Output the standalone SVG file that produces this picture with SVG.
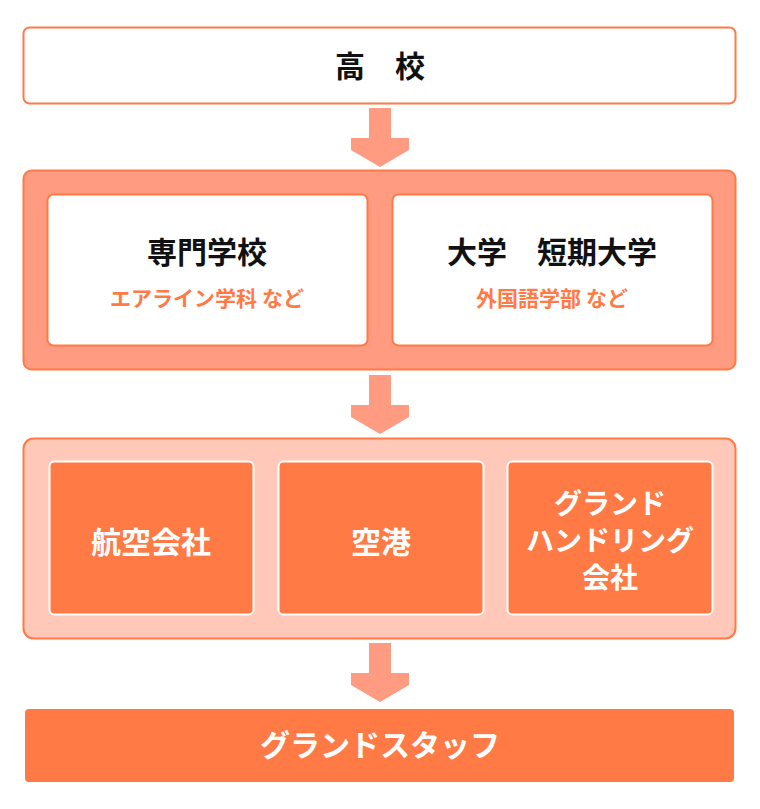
<svg xmlns="http://www.w3.org/2000/svg" width="760" height="809" viewBox="0 0 760 809">
<style>
text{font-family:"Noto Sans CJK JP",sans-serif;font-weight:bold;text-anchor:middle}
.t{font-size:30px;fill:#111}
.s{font-size:21px;fill:#FF7A45}
.w{font-size:30px;fill:#fff}
.g{font-size:28px;fill:#fff}
.arr{fill:#FF9B80}
</style>
<defs><path id="a" d="M-11,0H11V30H29V42L0,59L-29,42V30H-11Z"/></defs>
<rect width="760" height="809" fill="#fff"/>
<g id="connectors">
<use href="#a" class="arr" x="380" y="108"/>
<use href="#a" class="arr" x="380" y="375"/>
<use href="#a" class="arr" x="380" y="643"/>
</g>
<g id="koukou"><rect x="23.5" y="27.5" width="712" height="76" rx="6" fill="#fff" stroke="#FF7A45" stroke-width="2"/><text class="t" x="380" y="77">高　校</text></g>
<g id="group2"><rect x="23.5" y="170.5" width="712" height="199" rx="8" fill="#FF9B80" stroke="#FF7A45" stroke-width="2"/></g>
<g id="senmon"><rect x="47.5" y="194.5" width="320" height="151" rx="6" fill="#fff" stroke="#FF7A45" stroke-width="2"/><text class="t" x="207" y="263">専門学校</text><text class="s" x="207" y="306">エアライン学科 など</text></g>
<g id="daigaku"><rect x="392.5" y="194.5" width="320" height="151" rx="6" fill="#fff" stroke="#FF7A45" stroke-width="2"/><text class="t" x="552" y="263">大学　短期大学</text><text class="s" x="552" y="306">外国語学部 など</text></g>
<g id="group3"><rect x="23.5" y="438.5" width="712" height="200" rx="10" fill="#FFC8B8" stroke="#FF7A45" stroke-width="2"/></g>
<g id="airline"><rect x="49.5" y="461.5" width="204" height="153" rx="5" fill="#FF7A45" stroke="#fff" stroke-width="2"/><text class="w" x="151" y="553">航空会社</text></g>
<g id="airport"><rect x="278.5" y="461.5" width="205" height="153" rx="5" fill="#FF7A45" stroke="#fff" stroke-width="2"/><text class="w" x="381" y="553">空港</text></g>
<g id="ground"><rect x="507.5" y="461.5" width="205" height="153" rx="5" fill="#FF7A45" stroke="#fff" stroke-width="2"/><text class="g" x="610" y="514">グランド</text><text class="g" x="610" y="551">ハンドリング</text><text class="g" x="610" y="588">会社</text></g>
<g id="staff"><rect x="25" y="709" width="709" height="73" rx="4" fill="#FF7A45"/><text class="w" x="380" y="756">グランドスタッフ</text></g>
</svg>
